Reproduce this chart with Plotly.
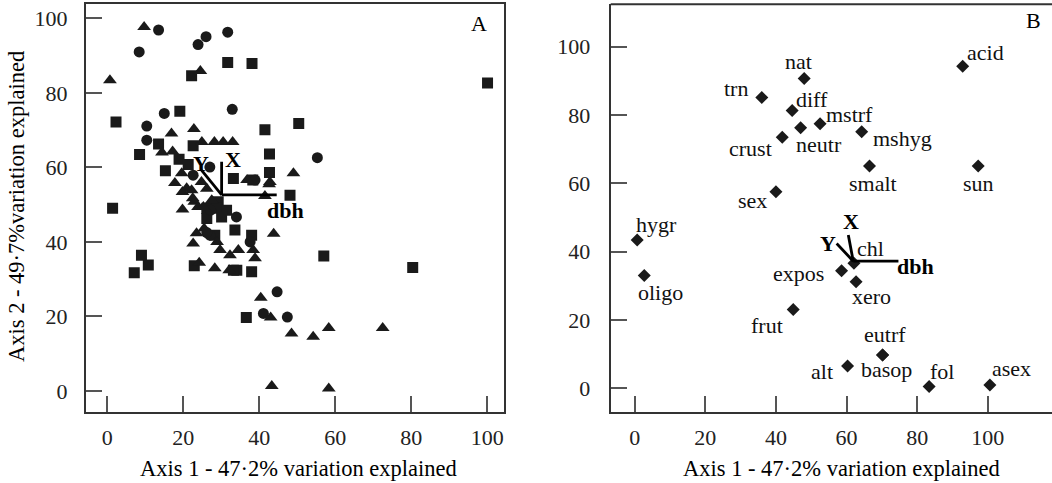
import plotly.graph_objects as go

# ---------------- Panel A data ----------------
a_circle_x = [13.5, 8.4, 23.9, 26.0, 31.7, 15.0, 32.9, 10.4, 10.4, 27.0, 22.6, 38.9, 27.2, 34.0, 55.3, 27.0, 44.7, 41.1, 47.4, 37.6, 26.2]
a_circle_y = [96.9, 91.0, 93.0, 95.1, 96.3, 74.5, 75.6, 71.1, 67.3, 60.1, 57.9, 56.6, 48.5, 46.7, 62.6, 41.8, 26.6, 20.8, 19.8, 40.0, 42.5]

a_square_x = [31.7, 38.1, 22.2, 100.1, 2.3, 19.1, 50.4, 41.5, 13.5, 22.6, 42.7, 8.5, 18.9, 21.3, 15.3, 33.2, 42.7, 48.1, 1.4,
              29.2, 26.2, 28.8, 31.4, 30.1, 26.2, 33.6, 28.3, 38.0, 22.9, 34.1, 38.0, 9.0, 10.8, 7.1, 57.0, 80.4, 36.6, 38.3, 33.2]
a_square_y = [88.2, 87.9, 84.6, 82.7, 72.2, 75.1, 71.8, 70.1, 66.3, 65.8, 63.6, 63.5, 62.2, 60.8, 59.1, 57.0, 58.6, 52.5, 49.0,
              50.8, 49.0, 49.0, 48.5, 46.7, 46.3, 43.2, 41.8, 41.8, 33.6, 32.4, 32.0, 36.4, 33.8, 31.7, 36.2, 33.1, 19.7, 56.6, 32.4]

a_tri_x = [9.7, 24.5, 0.7, 16.9, 22.8, 24.9, 28.2, 30.5, 33.0, 14.4, 17.2, 19.6, 24.8, 36.8, 42.8, 49.0, 42.6, 17.8, 20.9, 19.8,
           26.2, 22.2, 22.5, 27.5, 22.9, 19.8, 23.9, 25.3, 41.5, 25.5, 23.5, 43.8, 22.6, 28.9, 29.7, 38.4, 32.3, 34.5, 38.9, 24.2,
           28.3, 32.1, 40.4, 43.0, 48.5, 54.2, 58.3, 72.5, 43.3, 58.3]
a_tri_y = [97.7, 85.9, 83.4, 69.1, 70.3, 66.8, 66.8, 66.8, 66.8, 64.0, 64.3, 58.4, 56.1, 56.6, 56.1, 58.4, 55.5, 55.8, 54.4, 53.4,
           54.3, 53.9, 51.7, 51.2, 50.8, 48.7, 49.4, 49.4, 52.3, 43.6, 42.3, 42.2, 39.6, 40.0, 37.8, 37.8, 36.4, 37.8, 35.6, 34.4,
           32.9, 32.4, 25.0, 19.7, 15.4, 14.5, 16.9, 16.9, 1.3, 0.6]

# Panel A vectors (origin -> tip)
a_vec_names = ["X", "Y", "dbh"]
a_vec_origin = (30.1, 52.6)
a_vec_tip_x = [30.1, 24.8, 44.6]
a_vec_tip_y = [61.5, 59.3, 52.6]
a_vec_label_x = [33.2, 24.8, 46.8]
a_vec_label_y = [62.0, 61.1, 48.5]

# ---------------- Panel B data ----------------
b_names = ["trn", "crust", "sex", "hygr", "oligo", "frut", "expos", "chl", "xero", "eutrf", "alt", "basop", "fol", "asex",
           "nat", "diff", "mstrf", "neutr", "mshyg", "smalt", "sun", "acid"]
b_x = [36.0, 41.8, 40.0, 0.7, 2.7, 44.9, 58.6, 62.1, 62.7, 70.2, 60.3, 70.2, 83.4, 100.6,
       48.0, 44.6, 52.5, 47.0, 64.3, 66.5, 97.3, 92.9]
b_y = [85.1, 73.5, 57.5, 43.4, 33.0, 23.1, 34.4, 36.6, 31.2, 9.75, 6.5, 9.75, 0.5, 1.0,
       90.7, 81.3, 77.4, 76.3, 75.1, 65.1, 65.1, 94.3]
b_label_x = [28.7, 32.9, 33.4, 6.2, 7.2, 37.4, 46.4, 66.9, 67.1, 70.9, 53.0, 71.2, 87.1, 106.8,
             46.5, 50.1, 60.8, 52.3, 75.8, 67.4, 97.3, 99.5]
b_label_y = [87.8, 70.3, 54.9, 47.8, 28.0, 18.5, 33.7, 41.0, 26.8, 15.6, 4.9, 5.6, 4.9, 5.9,
             95.6, 84.6, 80.0, 71.5, 73.2, 59.8, 60.0, 98.2]

b_vec_names = ["X", "Y", "dbh"]
b_vec_origin = (61.9, 37.2)
b_vec_tip_x = [60.5, 57.2, 74.7]
b_vec_tip_y = [44.9, 42.4, 37.2]
b_vec_label_x = [61.3, 54.8, 79.4]
b_vec_label_y = [48.8, 42.4, 35.6]

ticks = [0, 20, 40, 60, 80, 100]
x_title = "Axis 1 - 47·2% variation explained"
y_title = "Axis 2 - 49·7%variation explained"

FONT = "Liberation Serif"
INK = "#1a1a1a"
W, H = 1052, 483

fig = go.Figure()

def mk(x, y, sym, size, xa, ya):
    fig.add_trace(go.Scatter(x=x, y=y, mode="markers", xaxis=xa, yaxis=ya,
                             marker=dict(symbol=sym, size=size, color=INK, line=dict(width=0)),
                             hoverinfo="skip", showlegend=False))

mk(a_square_x, a_square_y, "square", 11, "x", "y")
mk(a_circle_x, a_circle_y, "circle", 11, "x", "y")
mk(a_tri_x, a_tri_y, "triangle-up", 12, "x", "y")
mk(b_x, b_y, "diamond", 10, "x2", "y2")

def vectors(origin, tx, ty, xa, ya):
    for x1, y1 in zip(tx, ty):
        fig.add_trace(go.Scatter(x=[origin[0], x1], y=[origin[1], y1], mode="lines", xaxis=xa, yaxis=ya,
                                 line=dict(color="#000", width=2.8), hoverinfo="skip", showlegend=False))

vectors(a_vec_origin, a_vec_tip_x, a_vec_tip_y, "x", "y")
vectors(b_vec_origin, b_vec_tip_x, b_vec_tip_y, "x2", "y2")

def text(x, y, s, xref, yref, **kw):
    d = dict(x=x, y=y, xref=xref, yref=yref, text=s, showarrow=False, xanchor="center", yanchor="middle",
             font=dict(family=FONT, size=22, color="#000"))
    d.update(kw)
    return d

ann = []
for n, lx, ly in zip(a_vec_names, a_vec_label_x, a_vec_label_y):
    ann.append(text(lx, ly, "<b>%s</b>" % n, "x", "y"))
for n, lx, ly in zip(b_vec_names, b_vec_label_x, b_vec_label_y):
    ann.append(text(lx, ly, "<b>%s</b>" % n, "x2", "y2"))
for n, lx, ly in zip(b_names, b_label_x, b_label_y):
    ann.append(text(lx, ly, n, "x2", "y2", font=dict(family=FONT, size=22, color="#111")))

# panel letters
ann.append(text(479 / W, 1 - 23 / H, "A", "paper", "paper"))
ann.append(text(1033 / W, 1 - 20 / H, "B", "paper", "paper"))
# axis titles
ann.append(text(298 / W, 1 - 468 / H, x_title, "paper", "paper", font=dict(family=FONT, size=22.5, color="#000")))
ann.append(text(841 / W, 1 - 468 / H, x_title, "paper", "paper", font=dict(family=FONT, size=22.5, color="#000")))
ann.append(text(16 / W, 1 - 207 / H, y_title, "paper", "paper", textangle=-90,
                font=dict(family=FONT, size=22.5, color="#000")))

ytop = 1 - 4.3 / H
ybot = 1 - 411.7 / H

axis_common = dict(ticks="inside", ticklen=16, tickwidth=1.5, tickcolor="#555", showgrid=False, zeroline=False,
                   showline=True, linecolor="#333", linewidth=2, tickvals=ticks, automargin=False,
                   tickfont=dict(family=FONT, size=22, color="#222"), fixedrange=True)

fig.update_layout(
    template="none",
    width=W, height=H, margin=dict(l=0, r=0, t=0, b=0, pad=0),
    paper_bgcolor="white", plot_bgcolor="white", showlegend=False,
    xaxis=dict(domain=[86 / W, 503.5 / W], range=[-5.6, 104.3], anchor="y", mirror=True,
               ticklabelstandoff=5, **axis_common),
    yaxis=dict(domain=[ybot, ytop], range=[-5.6, 103.8], anchor="x", mirror=True,
               ticklabelstandoff=12, **axis_common),
    xaxis2=dict(domain=[610.7 / W, 1.0], range=[-6.8, 118.2], anchor="y2",
                ticklabelstandoff=5, **axis_common),
    yaxis2=dict(domain=[ybot, ytop], range=[-6.85, 112.4], anchor="x2",
                ticklabelstandoff=14, **axis_common),
    annotations=ann,
    shapes=[dict(type="line", xref="paper", yref="paper", x0=610.7 / W, x1=1.0, y0=ytop, y1=ytop,
                 line=dict(color="#333", width=2))],
)

fig.write_html("out.html", config={"displayModeBar": False},
               post_script="document.body.style.margin='0';document.body.style.overflow='hidden';")
